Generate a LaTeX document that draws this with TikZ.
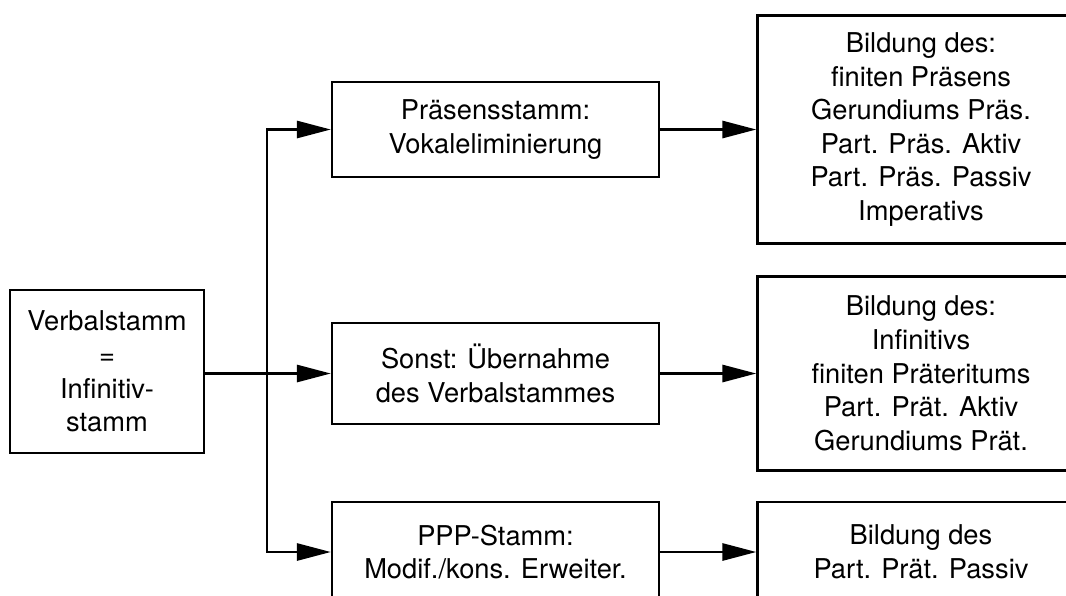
\documentclass[tikz,border=0pt]{standalone}
\usepackage{fontspec}
\setmainfont{TeX Gyre Heros}
\usetikzlibrary{positioning, arrows.meta}

\begin{document}
\begin{tikzpicture}[
  x=0.025cm, y=-0.025cm,
  box/.style={draw, line width=1.7pt, align=center, inner sep=0pt,
    font=\fontsize{19.4}{23.9}\selectfont},
  stembox/.style={box, minimum width=4.85cm, minimum height=4.075cm},
  midbox/.style={box, minimum width=8.175cm},
  outbox/.style={box, minimum width=8.175cm},
  op/.style={-{Triangle[length=0.85cm, width=0.43cm]}, line width=1.7pt}
]
  \clip (0,0) rectangle (1066,595);

  \node[stembox] (stem) at (107,371.5) {Verbalstamm\\=\\Infinitiv-\\stamm};
  \node[midbox, minimum height=2.375cm] (pres) at (495.5,129.5) {Präsensstamm:\\Vokaleliminierung};
  \node[midbox, minimum height=2.525cm] (sonst) at (495.5,373.5) {Sonst: Übernahme\\des Verbalstammes};
  \node[midbox, minimum height=2.5cm] (ppp) at (495.5,552) {PPP-Stamm:\\Modif./kons. Erweiter.};

  \node[outbox, minimum height=5.7cm, right=2.4cm of pres] (presform)
    {Bildung des:\\finiten Präsens\\Gerundiums Präs.\\Part. Präs. Aktiv\\Part. Präs. Passiv\\Imperativs};
  \node[outbox, minimum height=4.85cm, right=2.4cm of sonst] (sonstform)
    {Bildung des:\\Infinitivs\\finiten Präteritums\\Part. Prät. Aktiv\\Gerundiums Prät.};
  \node[outbox, minimum height=2.5cm, right=2.4cm of ppp] (pppform)
    {Bildung des\\Part. Prät. Passiv};

  % fork from the stem into the three branches
  \coordinate (fork) at (267,373.5);
  \draw[op] (stem.east |- sonst.west) -- (sonst.west);
  \draw[op] (fork) |- (pres.west);
  \draw[op] (fork) |- (ppp.west);

  \draw[op] (pres) -- (presform);
  \draw[op] (sonst) -- (sonstform);
  \draw[op] (ppp) -- (pppform);
\end{tikzpicture}
\end{document}
